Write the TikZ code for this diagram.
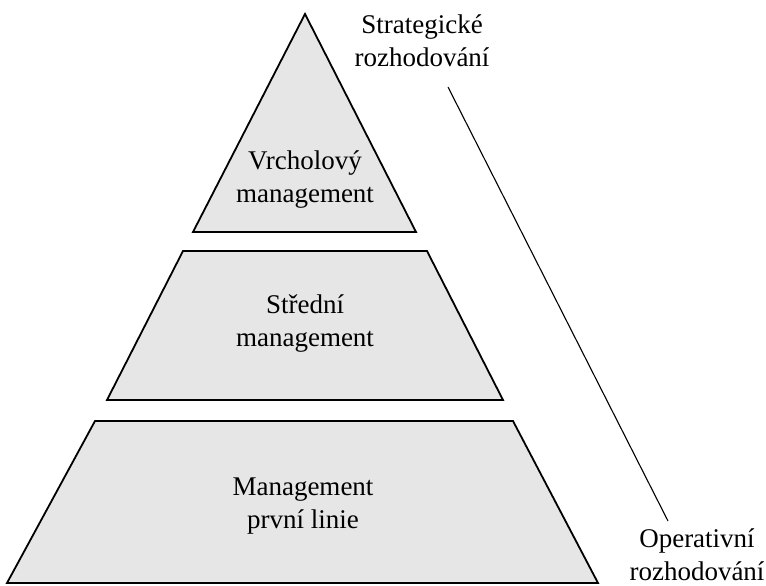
\documentclass[tikz,border=0pt]{standalone}
\usepackage{fontspec}
\setmainfont{Liberation Serif}
\usetikzlibrary{positioning}
\definecolor{lvlfill}{HTML}{E6E6E6}
\tikzset{
  lvl/.style={draw=black,line width=1.8pt,fill=lvlfill,line join=miter},
  lab/.style={font=\fontsize{27}{33}\selectfont,align=center,inner sep=0pt},
  dec/.style={draw=black,line width=1.1pt},
}
\begin{document}
\begin{tikzpicture}[x=1pt,y=-1pt]
\useasboundingbox (0,0) rectangle (766,586);
% pyramid levels
\draw[lvl] (305,14) -- (416,232) -- (193,232) -- cycle;
\draw[lvl] (183,251) -- (427,251) -- (503,400) -- (107,400) -- cycle;
\draw[lvl] (95,421) -- (513,421) -- (598,583) -- (7,583) -- cycle;
\node[lab] (top) at (305,180) {Vrcholový\\management};
\node[lab] (mid) at (305,324) {Střední\\management};
\node[lab] (low) at (303,506) {Management\\první linie};
% decision axis
\node[lab] (strat) at (422,41) {Strategické\\rozhodování};
\node[lab] (oper) at (697,555) {Operativní\\rozhodování};
\coordinate (s) at (448,87);
\coordinate (o) at (668,521);
\draw[dec] (s) -- (o);
\end{tikzpicture}
\end{document}
